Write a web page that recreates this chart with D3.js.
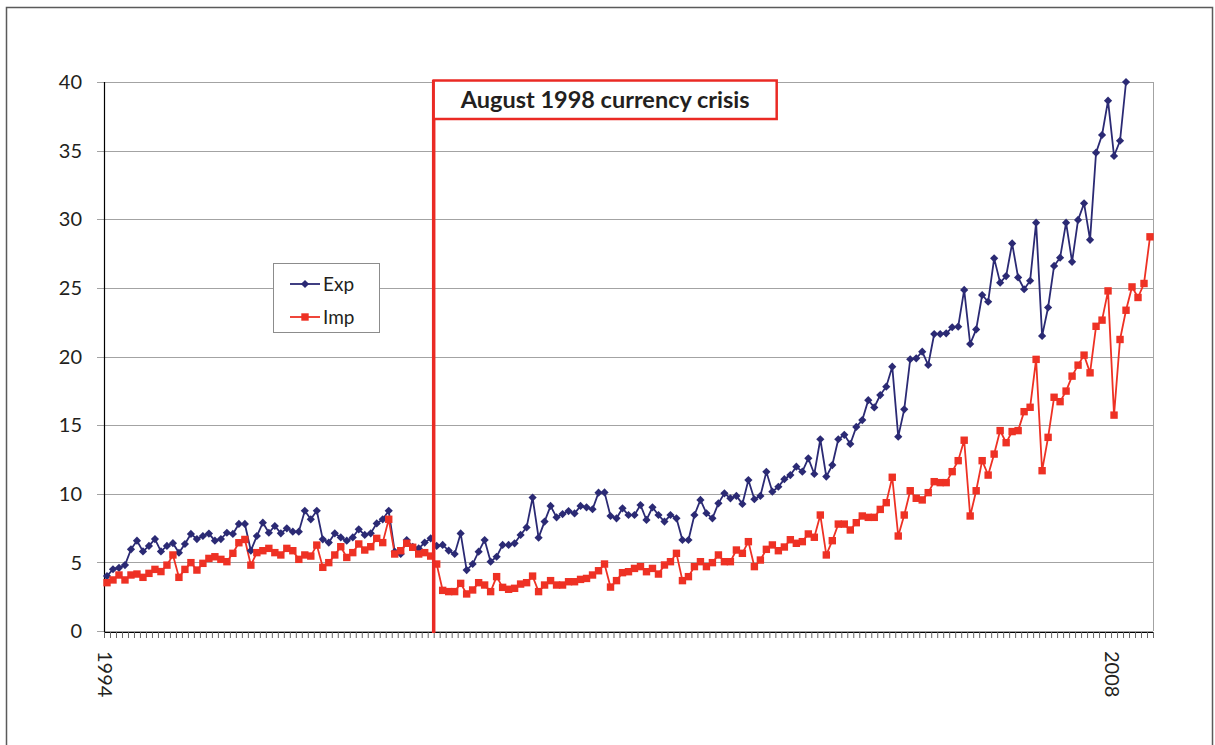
<!DOCTYPE html>
<html>
<head>
<meta charset="utf-8">
<script src="https://cdn.jsdelivr.net/npm/d3@7"></script>
<style>
  body { margin: 0; background: #fff; }
  text { font-family: Lato, "Open Sans", sans-serif; fill: #231f20; }
</style>
</head>
<body>
<div id="chart"></div>
<script>
// monthly categories, Jan 1994 .. Jul 2008
const months = d3.timeMonth.range(new Date(1994, 0, 1), new Date(2008, 7, 1));

// exports (values above 40 fall outside the plot and are not shown)
const exp = [4.0, 4.5, 4.6, 4.8, 5.95, 6.58, 5.8, 6.2, 6.7, 5.8, 6.2, 6.4,
  5.7, 6.34, 7.07, 6.7, 6.92, 7.1, 6.58, 6.7, 7.16, 7.07, 7.8, 7.8,
  5.85, 6.92, 7.89, 7.16, 7.65, 7.12, 7.48, 7.24, 7.24, 8.76, 8.14, 8.76,
  6.68, 6.44, 7.12, 6.82, 6.58, 6.82, 7.41, 7.0, 7.12, 7.84, 8.14, 8.76,
  5.78, 5.61, 6.63, 6.14, 6.02, 6.44, 6.75, 6.2, 6.27, 5.86, 5.61, 7.11,
  4.44, 4.88, 5.78, 6.63, 5.05, 5.41, 6.27, 6.27, 6.39, 7.0, 7.55, 9.72,
  6.8, 7.97, 9.11, 8.28, 8.52, 8.74, 8.57, 9.11, 9.01, 8.87, 10.08, 10.1,
  8.38, 8.21, 8.94, 8.45, 8.45, 9.18, 8.09, 9.01, 8.45, 7.97, 8.45, 8.21,
  6.63, 6.63, 8.45, 9.55, 8.58, 8.21, 9.3, 10.03, 9.67, 9.84, 9.26, 11.0,
  9.6, 9.84, 11.6, 10.15, 10.51, 11.06, 11.36, 11.97, 11.61, 12.58, 11.44, 13.97,
  11.25, 12.09, 13.97, 14.29, 13.63, 14.87, 15.37, 16.82, 16.29, 17.19, 17.8, 19.26,
  14.16, 16.15, 19.8, 19.87, 20.35, 19.38, 21.64, 21.64, 21.69, 22.13, 22.17, 24.85,
  20.91, 21.97, 24.48, 23.99, 27.15, 25.38, 25.86, 28.24, 25.76, 24.9, 25.52, 29.75,
  21.5, 23.57, 26.6, 27.2, 29.75, 26.9, 29.95, 31.16, 28.5, 34.85, 36.14, 38.64,
  34.61, 35.72, 40.0];

// imports
const imp = [3.52, 3.72, 4.08, 3.72, 4.08, 4.15, 3.91, 4.2, 4.49, 4.33, 4.8, 5.54,
  3.91, 4.49, 4.98, 4.44, 4.93, 5.29, 5.41, 5.22, 5.05, 5.66, 6.43, 6.67,
  4.8, 5.71, 5.85, 6.02, 5.71, 5.54, 6.02, 5.85, 5.22, 5.54, 5.46, 6.26,
  4.64, 4.98, 5.54, 6.14, 5.36, 5.71, 6.34, 5.9, 6.14, 6.75, 6.44, 8.14,
  5.61, 5.85, 6.39, 6.1, 5.61, 5.71, 5.46, 4.88, 2.96, 2.87, 2.87, 3.47,
  2.7, 2.99, 3.52, 3.35, 2.87, 3.96, 3.18, 3.04, 3.11, 3.42, 3.52, 4.0,
  2.87, 3.35, 3.67, 3.35, 3.35, 3.59, 3.59, 3.76, 3.83, 4.08, 4.39, 4.88,
  3.2, 3.67, 4.25, 4.32, 4.56, 4.69, 4.32, 4.56, 4.15, 4.81, 5.05, 5.66,
  3.67, 3.96, 4.69, 5.05, 4.69, 4.98, 5.54, 5.05, 5.05, 5.9, 5.66, 6.51,
  4.69, 5.17, 5.95, 6.27, 5.85, 6.12, 6.65, 6.39, 6.51, 7.07, 6.83, 8.45,
  5.54, 6.58, 7.79, 7.79, 7.36, 7.89, 8.38, 8.28, 8.28, 8.86, 9.35, 11.2,
  6.92, 8.45, 10.22, 9.67, 9.55, 10.08, 10.88, 10.81, 10.81, 11.61, 12.41, 13.9,
  8.38, 10.22, 12.41, 11.36, 12.89, 14.6, 13.72, 14.53, 14.6, 15.98, 16.3, 19.79,
  11.68, 14.11, 17.03, 16.71, 17.48, 18.57, 19.37, 20.1, 18.81, 22.2, 22.65, 24.78,
  15.73, 21.24, 23.37, 25.07, 24.3, 25.32, 28.72];

const yTicks = [0, 5, 10, 15, 20, 25, 30, 35, 40];
const xLabels = [{ i: 0, text: "1994" }, { i: 168, text: "2008" }];
const crisisIndex = 55; // August 1998
const crisisText = "August 1998 currency crisis";

const width = 1215;
const height = 745;
const plot = { left: 104, right: 1153, top: 82, bottom: 631 };
const expColor = "#2b2a74";
const impColor = "#ee3124";

const xScale = d3.scaleBand()
                  .domain(months.map((d, i) => i))
                  .range([plot.left, plot.right]);
const xc = i => xScale(i) + xScale.bandwidth() / 2;
const yScale = d3.scaleLinear()
                  .domain([0, 40])
                  .range([plot.bottom, plot.top]);

const svg = d3.select("#chart")
              .append("svg")
                .attr("width", width)
                .attr("height", height);

// outer frame
svg.append("rect")
    .attr("x", 6.5).attr("y", 7.5)
    .attr("width", 1206).attr("height", 760)
    .attr("fill", "none")
    .attr("stroke", "#5a5a5a")
    .attr("stroke-width", 1.5);

// gridlines
svg.append("g")
    .selectAll("line")
    .data(yTicks)
    .enter()
      .append("line")
        .attr("x1", plot.left - 7)
        .attr("x2", plot.right)
        .attr("y1", d => Math.round(yScale(d)) + 0.5)
        .attr("y2", d => Math.round(yScale(d)) + 0.5)
        .attr("stroke", "#a3a3a3")
        .attr("stroke-width", 1);

// right plot border
svg.append("line")
    .attr("x1", plot.right + 0.5).attr("x2", plot.right + 0.5)
    .attr("y1", plot.top).attr("y2", plot.bottom)
    .attr("stroke", "#a3a3a3");

// y labels
svg.append("g")
    .selectAll("text")
    .data(yTicks)
    .enter()
      .append("text")
        .attr("x", 82)
        .attr("y", d => yScale(d))
        .attr("dy", "0.36em")
        .attr("text-anchor", "end")
        .style("font-size", "20px")
        .text(d => d);

// axes lines
svg.append("line")
    .attr("x1", plot.left + 0.5).attr("x2", plot.left + 0.5)
    .attr("y1", plot.top).attr("y2", plot.bottom + 1)
    .attr("stroke", "#000").attr("stroke-width", 1.2);

const xAxis = d3.axisBottom(xScale)
                .tickSize(6)
                .tickFormat("");
const xg = svg.append("g")
              .attr("transform", `translate(0, ${plot.bottom + 1})`)
              .call(xAxis);
xg.select(".domain").attr("d", `M${plot.left},0.5H${plot.right}`).attr("stroke", "#000").attr("stroke-width", 1.2);
// ticks on category boundaries instead of centres
xg.selectAll(".tick").attr("transform", d => `translate(${xScale(d) + 0.5},0)`);
xg.selectAll(".tick line").attr("stroke", "#666");
xg.append("line")
    .attr("x1", plot.right + 0.5).attr("x2", plot.right + 0.5)
    .attr("y1", 0).attr("y2", 6).attr("stroke", "#666");

// x labels
svg.append("g")
    .selectAll("text")
    .data(xLabels)
    .enter()
      .append("text")
        .attr("transform", d => `translate(${xc(d.i) - 2}, 651) rotate(90)`)
        .attr("dy", "0.36em")
        .style("font-size", "20px")
        .text(d => d.text);

// series
const line = d3.line()
               .x((d, i) => xc(i))
               .y(d => yScale(d));

svg.append("path")
    .datum(exp)
    .attr("d", line)
    .attr("fill", "none")
    .attr("stroke", expColor)
    .attr("stroke-width", 1.8);

svg.append("path")
    .datum(imp)
    .attr("d", line)
    .attr("fill", "none")
    .attr("stroke", impColor)
    .attr("stroke-width", 1.8);

svg.append("g")
    .selectAll("rect")
    .data(exp)
    .enter()
      .append("rect")
        .attr("x", -2.9).attr("y", -2.9)
        .attr("width", 5.8).attr("height", 5.8)
        .attr("transform", (d, i) => `translate(${xc(i)}, ${yScale(d)}) rotate(45)`)
        .attr("fill", expColor);

svg.append("g")
    .selectAll("rect")
    .data(imp)
    .enter()
      .append("rect")
        .attr("x", (d, i) => xc(i) - 3.7)
        .attr("y", d => yScale(d) - 3.7)
        .attr("width", 7.4).attr("height", 7.4)
        .attr("fill", impColor);

// crisis marker
const crisisX = xScale(crisisIndex);
svg.append("line")
    .attr("x1", crisisX).attr("x2", crisisX)
    .attr("y1", 80).attr("y2", plot.bottom + 2)
    .attr("stroke", "#ea2a24")
    .attr("stroke-width", 3.5);

svg.append("rect")
    .attr("x", crisisX).attr("y", 80.5)
    .attr("width", 343).attr("height", 38.5)
    .attr("fill", "#fff")
    .attr("stroke", "#ea2a24")
    .attr("stroke-width", 2.5);

const title = svg.append("text")
                  .attr("x", crisisX + 171.5)
                  .attr("y", 108)
                  .attr("text-anchor", "middle")
                  .style("font-size", "21px")
                  .style("font-weight", "bold")
                  .text(crisisText);
const tl = title.node().getComputedTextLength();
title.style("font-size", (21 * 289 / tl) + "px");

// legend
const legend = svg.append("g");
legend.append("rect")
    .attr("x", 273.5).attr("y", 263.5)
    .attr("width", 106).attr("height", 69)
    .attr("fill", "#fff")
    .attr("stroke", "#8c8c8c");

const items = [{ name: "Exp", color: expColor, y: 284 }, { name: "Imp", color: impColor, y: 317 }];
items.forEach(it => {
    legend.append("line")
        .attr("x1", 290).attr("x2", 320)
        .attr("y1", it.y).attr("y2", it.y)
        .attr("stroke", it.color).attr("stroke-width", 1.8);
    legend.append("text")
        .attr("x", 323).attr("y", it.y)
        .attr("dy", "0.36em")
        .style("font-size", "19px")
        .text(it.name);
});
legend.append("rect")
    .attr("x", -2.9).attr("y", -2.9)
    .attr("width", 5.8).attr("height", 5.8)
    .attr("transform", `translate(305, 284) rotate(45)`)
    .attr("fill", expColor);
legend.append("rect")
    .attr("x", 301.3).attr("y", 313.3)
    .attr("width", 7.4).attr("height", 7.4)
    .attr("fill", impColor);
</script>
</body>
</html>
